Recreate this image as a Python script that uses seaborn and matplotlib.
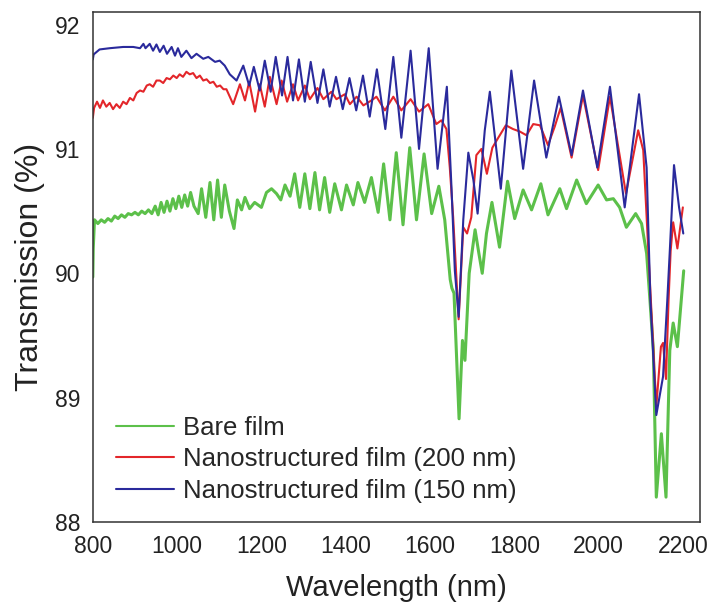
import numpy as np
import pandas as pd
import matplotlib
matplotlib.use("Agg")
import matplotlib.pyplot as plt
import seaborn as sns
from matplotlib.ticker import MultipleLocator

# values (wavelength nm, transmission %)
bare_wl = [800, 801, 804, 812, 820, 828, 836, 844, 852, 860, 868, 876, 884, 892, 900,
           908, 916, 924, 932, 940, 948, 955, 962, 969, 976, 983, 990, 997, 1004, 1011,
           1018, 1025, 1032, 1040, 1050, 1058, 1068, 1078, 1087, 1096, 1105, 1113, 1124,
           1135, 1143, 1153, 1161, 1172, 1184, 1200, 1212, 1224, 1236, 1246, 1256, 1268,
           1279, 1291, 1303, 1315, 1327, 1338, 1350, 1362, 1374, 1390, 1402, 1418, 1429,
           1445, 1461, 1477, 1490, 1505, 1520, 1536, 1552, 1568, 1586, 1604, 1621, 1635,
           1648, 1652, 1657, 1669, 1677, 1683, 1693, 1707, 1716, 1724, 1734, 1747, 1765,
           1784, 1801, 1821, 1841, 1863, 1880, 1908, 1924, 1948, 1971, 1999, 2019, 2035,
           2050, 2066, 2088, 2102, 2114, 2122, 2130, 2137, 2149, 2160, 2169, 2177, 2187, 2202]
bare_t = [89.97, 90.20, 90.43, 90.40, 90.43, 90.41, 90.44, 90.42, 90.46, 90.44, 90.47, 90.45,
          90.48, 90.47, 90.49, 90.47, 90.50, 90.48, 90.51, 90.48, 90.54, 90.47, 90.57, 90.49,
          90.58, 90.50, 90.60, 90.52, 90.62, 90.53, 90.63, 90.54, 90.65, 90.54, 90.48, 90.68,
          90.45, 90.73, 90.43, 90.75, 90.45, 90.71, 90.50, 90.36, 90.59, 90.51, 90.61, 90.52,
          90.57, 90.53, 90.65, 90.68, 90.64, 90.59, 90.71, 90.62, 90.80, 90.53, 90.80, 90.52,
          90.81, 90.51, 90.77, 90.49, 90.72, 90.51, 90.71, 90.55, 90.73, 90.57, 90.77, 90.49,
          90.88, 90.43, 90.97, 90.39, 91.01, 90.43, 90.96, 90.48, 90.70, 90.43, 89.95, 89.88,
          89.84, 88.83, 89.46, 89.30, 90.00, 90.35, 90.16, 90.00, 90.32, 90.57, 90.21, 90.74,
          90.44, 90.67, 90.51, 90.72, 90.47, 90.68, 90.52, 90.75, 90.56, 90.71, 90.59, 90.60,
          90.53, 90.37, 90.48, 90.40, 90.16, 89.78, 89.38, 88.20, 88.71, 88.20, 89.38, 89.60,
          89.41, 90.02]

nano200_wl = [800, 803, 810, 817, 824, 832, 840, 848, 856, 864, 872, 880, 888, 896, 904, 912,
              920, 928, 935, 943, 951, 959, 967, 975, 983, 991, 999, 1006, 1014, 1022, 1030,
              1038, 1046, 1054, 1062, 1070, 1078, 1086, 1094, 1102, 1110, 1117, 1125, 1133,
              1149, 1161, 1171, 1185, 1196, 1208, 1220, 1236, 1248, 1261, 1275, 1287, 1303,
              1315, 1333, 1347, 1366, 1378, 1398, 1410, 1426, 1442, 1461, 1473, 1493, 1513,
              1532, 1554, 1574, 1596, 1615, 1627, 1639, 1647, 1655, 1668, 1679, 1688, 1698,
              1710, 1722, 1735, 1748, 1762, 1780, 1797, 1813, 1829, 1845, 1861, 1880, 1896,
              1910, 1936, 1963, 1999, 2027, 2065, 2094, 2106, 2122, 2137, 2148, 2153, 2160,
              2166, 2171, 2177, 2187, 2200]
nano200_t = [91.25, 91.33, 91.38, 91.33, 91.39, 91.34, 91.37, 91.32, 91.36, 91.33, 91.38,
             91.36, 91.41, 91.39, 91.45, 91.47, 91.46, 91.51, 91.52, 91.50, 91.55, 91.55,
             91.53, 91.57, 91.56, 91.59, 91.57, 91.60, 91.58, 91.62, 91.60, 91.61, 91.57,
             91.59, 91.55, 91.56, 91.53, 91.54, 91.50, 91.51, 91.48, 91.48, 91.42, 91.36,
             91.52, 91.39, 91.54, 91.30, 91.52, 91.34, 91.58, 91.36, 91.55, 91.38, 91.52,
             91.39, 91.51, 91.40, 91.49, 91.40, 91.46, 91.40, 91.44, 91.36, 91.42, 91.35,
             91.39, 91.42, 91.31, 91.42, 91.31, 91.40, 91.30, 91.36, 91.20, 91.23, 91.16,
             90.85, 90.45, 89.63, 90.37, 90.32, 90.45, 90.95, 91.00, 90.80, 91.01, 91.09,
             91.19, 91.16, 91.14, 91.11, 91.20, 91.19, 91.03, 91.18, 91.33, 90.93, 91.43,
             90.83, 91.42, 90.64, 91.15, 90.99, 89.92, 88.93, 89.41, 89.44, 89.15, 89.78,
             90.18, 90.41, 90.20, 90.53]

nano150_wl = [800, 802, 816, 840, 872, 896, 912, 920, 925, 935, 943, 951, 959, 968, 976, 987,
              995, 1002, 1010, 1022, 1034, 1046, 1062, 1074, 1090, 1101, 1113, 1125, 1141,
              1157, 1171, 1182, 1196, 1208, 1222, 1234, 1249, 1262, 1275, 1289, 1303, 1317,
              1333, 1347, 1362, 1377, 1393, 1409, 1425, 1441, 1457, 1474, 1494, 1513, 1532,
              1554, 1574, 1597, 1618, 1640, 1651, 1659, 1668, 1679, 1691, 1703, 1713, 1730,
              1742, 1768, 1793, 1821, 1847, 1876, 1906, 1936, 1963, 1997, 2027, 2062, 2096,
              2114, 2123, 2137, 2153, 2163, 2169, 2179, 2191, 2201]
nano150_t = [91.72, 91.76, 91.80, 91.81, 91.82, 91.82, 91.81, 91.845, 91.81, 91.845, 91.79,
             91.84, 91.78, 91.83, 91.765, 91.82, 91.75, 91.81, 91.74, 91.79, 91.73, 91.765,
             91.725, 91.74, 91.70, 91.71, 91.67, 91.60, 91.55, 91.67, 91.51, 91.66, 91.47,
             91.71, 91.46, 91.74, 91.43, 91.74, 91.39, 91.72, 91.38, 91.70, 91.37, 91.64,
             91.34, 91.58, 91.32, 91.57, 91.31, 91.59, 91.26, 91.64, 91.16, 91.74, 91.09,
             91.79, 91.00, 91.81, 90.84, 91.50, 90.69, 90.02, 89.65, 90.43, 90.97, 90.75,
             90.48, 91.15, 91.46, 90.68, 91.63, 90.84, 91.55, 90.93, 91.42, 90.95, 91.47,
             90.85, 91.50, 90.53, 91.44, 90.85, 89.78, 88.86, 89.17, 89.78, 90.18, 90.87,
             90.53, 90.32]

labels = ["Bare film", "Nanostructured film (200 nm)", "Nanostructured film (150 nm)"]
colors = ["#5cc04a", "#e3262a", "#2a2a9c"]
widths = [2.2, 1.5, 1.5]

df = pd.concat([
    pd.DataFrame({"wl": bare_wl, "T": bare_t, "sample": labels[0]}),
    pd.DataFrame({"wl": nano200_wl, "T": nano200_t, "sample": labels[1]}),
    pd.DataFrame({"wl": nano150_wl, "T": nano150_t, "sample": labels[2]}),
])

sns.set_style("white")
plt.rcParams["font.family"] = ["Liberation Sans", "DejaVu Sans"]

fig = plt.figure(figsize=(7.14, 6.07), dpi=100)
ax = fig.add_axes([0.130, 0.140, 0.850, 0.840])

for lab, col, lw in zip(labels, colors, widths):
    sns.lineplot(data=df[df["sample"] == lab], x="wl", y="T", color=col, linewidth=lw,
                 label=lab, estimator=None, sort=False, ax=ax,
                 solid_joinstyle="round")

ax.set_xlim(800, 2240)
ax.set_ylim(88, 92.1)
ax.xaxis.set_major_locator(MultipleLocator(200))
ax.xaxis.set_minor_locator(MultipleLocator(100))
ax.yaxis.set_major_locator(MultipleLocator(1))
ax.yaxis.set_minor_locator(MultipleLocator(0.5))
ax.tick_params(which="both", direction="in", colors="#333333", labelcolor="#222222",
               labelsize=16.5, width=1.1, pad=9)
ax.tick_params(which="major", length=9)
ax.tick_params(which="minor", length=5)
for s in ax.spines.values():
    s.set_color("#333333")
    s.set_linewidth(1.1)

ax.set_xlabel("Wavelength (nm)", fontsize=21, color="#222222", labelpad=12)
ax.set_ylabel("Transmission (%)", fontsize=23, color="#222222", labelpad=7)

leg = ax.legend(loc="lower left", bbox_to_anchor=(0.0, -0.008), frameon=False, fontsize=18.5,
                handlelength=2.25, handletextpad=0.35, labelspacing=0.3)
for line in leg.get_lines():
    line.set_linewidth(1.5)

fig.savefig("out.png", dpi=100)
